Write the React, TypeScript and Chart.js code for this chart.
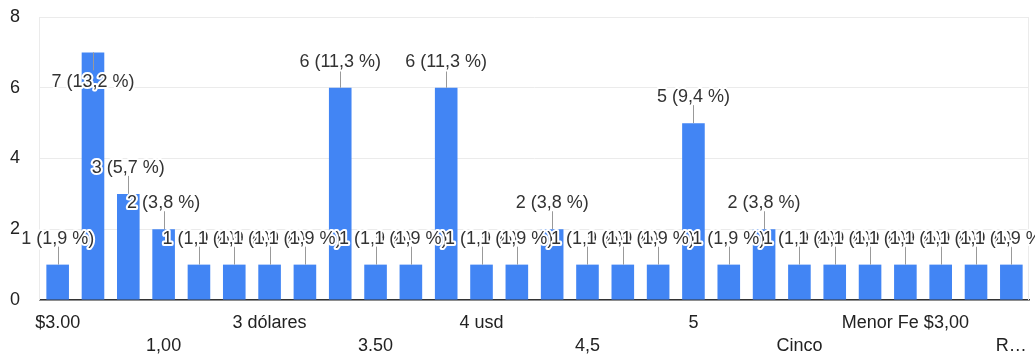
import React, { useEffect, useRef } from 'react';
import { Chart, registerables } from 'chart.js';

Chart.register(...registerables);

// Answers (category axis) and how many responses each one received
const categories: string[] = [
  '$3.00', '1', '1 dólar', '1,00', '1,50', '2 dólares', '3 dólares', '3 usd',
  '3', '3.50', '3,50', '4', '4 usd', '4 dólares', '4.50', '4,5', '4,50', '4.00',
  '5', '5 dólares', '5,00', 'Cinco', 'Cuatro', 'Dos', 'Menor Fe $3,00',
  'Menos de 3', 'No sé', 'Regular, entre $2 y $3',
];
const counts: number[] = [
  1, 7, 3, 2, 1, 1, 1, 1, 6, 1, 1, 6, 1, 1, 2, 1, 1, 1, 5, 1, 2, 1, 1, 1, 1, 1, 1, 1,
];
const yMin = 0;
const yMax = 8;
const yStep = 2;

const FAMILY = '"Liberation Sans", Arial, Helvetica, sans-serif';
const FONT_SIZE = 18;
const FONT = `${FONT_SIZE}px ${FAMILY}`;
const BAR_COLOR = '#4285f4';
const GRID_COLOR = '#ebebeb';
const TEXT_COLOR = '#222222';
const LABEL_COLOR = '#333333';
const STEM_COLOR = '#999999';
const STEM = 18;
const ABOVE_BASELINE = 21;
const BELOW_BASELINE = 35;

const total = counts.reduce((a, b) => a + b, 0);
const formatValue = (v: number) =>
  `${v} (${((v / total) * 100).toFixed(1).replace('.', ',')} %)`;

// Light frame on the left and right edges of the plot area
const plotEdges = {
  id: 'plotEdges',
  beforeDatasetsDraw(chart: any) {
    const { ctx, chartArea } = chart;
    ctx.save();
    ctx.strokeStyle = GRID_COLOR;
    ctx.lineWidth = 1;
    [chartArea.left, chartArea.right].forEach((x: number) => {
      const px = Math.round(x) - 0.5;
      ctx.beginPath();
      ctx.moveTo(px, chartArea.top);
      ctx.lineTo(px, chartArea.bottom);
      ctx.stroke();
    });
    ctx.restore();
  },
};

// "count (percent)" annotations with a stem and a white halo
const valueLabels = {
  id: 'valueLabels',
  afterDatasetsDraw(chart: any) {
    const { ctx, chartArea } = chart;
    const meta = chart.getDatasetMeta(0);
    const items = meta.data.map((bar: any, i: number) => {
      const up = bar.y - ABOVE_BASELINE - FONT_SIZE >= chartArea.top;
      return { x: bar.x, top: bar.y, up, text: formatValue(counts[i]) };
    });
    ctx.save();
    ctx.strokeStyle = STEM_COLOR;
    ctx.lineWidth = 1;
    items.forEach((it: any) => {
      const px = Math.round(it.x) + 0.5;
      ctx.beginPath();
      ctx.moveTo(px, it.top);
      ctx.lineTo(px, it.up ? it.top - STEM : it.top + STEM);
      ctx.stroke();
    });
    ctx.font = FONT;
    ctx.textAlign = 'center';
    ctx.textBaseline = 'alphabetic';
    ctx.lineJoin = 'round';
    items.forEach((it: any) => {
      const y = it.up ? it.top - ABOVE_BASELINE : it.top + BELOW_BASELINE;
      ctx.lineWidth = 4;
      ctx.strokeStyle = '#ffffff';
      ctx.strokeText(it.text, it.x, y);
      ctx.fillStyle = LABEL_COLOR;
      ctx.fillText(it.text, it.x, y);
    });
    ctx.restore();
  },
};

function fitLabel(ctx: CanvasRenderingContext2D, text: string, room: number) {
  if (ctx.measureText(text).width <= room) return text;
  let t = text;
  while (t.length > 1 && ctx.measureText(t + '…').width > room) t = t.slice(0, -1);
  return t + '…';
}

export default function App() {
  const canvasRef = useRef<HTMLCanvasElement | null>(null);

  useEffect(() => {
    if (!canvasRef.current) return;
    const chart = new Chart(canvasRef.current, {
      type: 'bar',
      data: {
        labels: categories,
        datasets: [
          {
            data: counts,
            backgroundColor: BAR_COLOR,
            borderWidth: 0,
            categoryPercentage: 1,
            barPercentage: 0.64,
          },
        ],
      },
      options: {
        responsive: false,
        animation: false,
        layout: { padding: { top: 17, right: 6, left: 0, bottom: 0 } },
        plugins: {
          legend: { display: false },
          tooltip: { enabled: false },
        },
        scales: {
          x: {
            offset: true,
            grid: { display: false, drawTicks: false },
            border: { display: true, color: '#333333', width: 1.5 },
            afterFit(scale: any) {
              scale.height = 58;
              scale.paddingLeft = 0;
              scale.paddingRight = 0;
            },
            ticks: {
              autoSkip: false,
              minRotation: 0,
              maxRotation: 0,
              padding: 11,
              color: TEXT_COLOR,
              font: { family: FAMILY, size: FONT_SIZE, lineHeight: 1.3 },
              callback(this: any, _value: any, index: number) {
                if (index % 3 !== 0) return '';
                let text = categories[index];
                const chartRef = this.chart;
                const ca = chartRef.chartArea;
                if (ca) {
                  const step = (ca.right - ca.left) / categories.length;
                  const center = ca.left + (index + 0.5) * step;
                  const room = 2 * Math.min(center - 8, chartRef.width - 8 - center);
                  const c = chartRef.ctx as CanvasRenderingContext2D;
                  c.save();
                  c.font = FONT;
                  text = fitLabel(c, text, room);
                  c.restore();
                }
                return (index / 3) % 2 === 0 ? [text] : ['', text];
              },
            },
          },
          y: {
            min: yMin,
            max: yMax,
            grid: { color: GRID_COLOR, drawTicks: false },
            border: { display: false },
            afterFit(scale: any) {
              scale.width = 40;
              scale.paddingTop = 0;
              scale.paddingBottom = 0;
            },
            ticks: {
              stepSize: yStep,
              padding: 20,
              color: TEXT_COLOR,
              font: { family: FAMILY, size: FONT_SIZE },
            },
          },
        },
      },
      plugins: [plotEdges, valueLabels],
    });
    chart.update();
    return () => chart.destroy();
  }, []);

  return (
    <div style={{ position: 'absolute', left: 0, top: 0, width: 1035, height: 358, background: '#ffffff' }}>
      <canvas ref={canvasRef} width={1035} height={358} style={{ display: 'block' }} />
    </div>
  );
}
